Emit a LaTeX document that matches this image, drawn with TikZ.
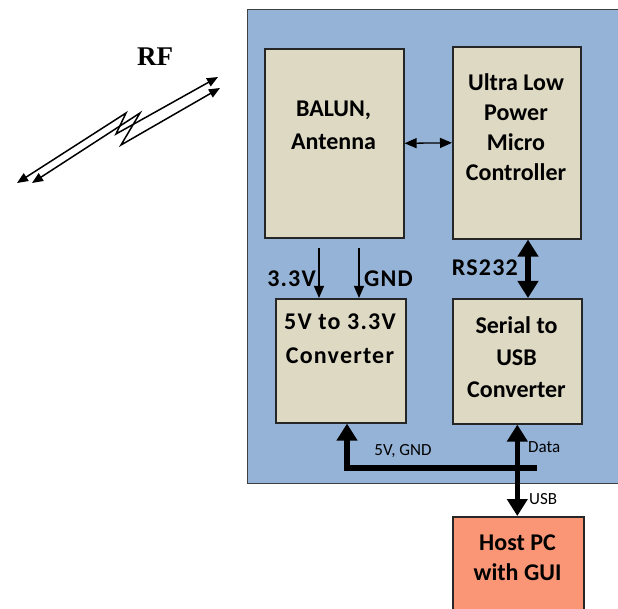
\documentclass[tikz,border=0pt]{standalone}
\usepackage{fontspec}
\setmainfont{Carlito}
\newfontfamily\rffont{Liberation Serif}
\newfontfamily\digfont{Carlito}[LetterSpace=5]
\usetikzlibrary{arrows.meta}
\definecolor{panelblue}{HTML}{95B3D7}
\definecolor{boxtan}{HTML}{DDD9C3}
\definecolor{hostred}{HTML}{FA9676}
\begin{document}
\begin{tikzpicture}[x=1pt,y=-1pt,
  panelbox/.style={draw=black!75, line width=1.3pt, fill=panelblue, anchor=north west, inner sep=0pt},
  blk/.style={draw=black!85, line width=1.6pt, fill=boxtan, anchor=north west, inner sep=0pt},
  hostbox/.style={blk, fill=hostred},
  btxt/.style={font=\fontsize{24}{31}\selectfont\bfseries, align=center, inner sep=0pt},
  lbl/.style={font=\digfont\fontsize{24}{28}\selectfont\bfseries, inner sep=0pt},
  slbl/.style={font=\fontsize{17}{20}\selectfont, inner sep=0pt},
  thinboth/.style={line width=1.3pt, {Triangle[width=10pt,length=12pt]}-{Triangle[width=10pt,length=12pt]}},
  thinto/.style={line width=1.3pt, -{Triangle[width=10pt,length=12pt]}},
  thickboth/.style={line width=5.5pt, {Triangle[width=20pt,length=17pt]}-{Triangle[width=20pt,length=17pt]}},
  thickto/.style={line width=5.5pt, miter limit=10, -{Triangle[width=20pt,length=17pt]}},
  rfline/.style={line width=1.5pt, line join=miter, {Triangle[width=9pt,length=11pt]}-{Triangle[width=9pt,length=11pt]}}
]
\useasboundingbox (0,0) rectangle (618,609);
\clip (0,0) rectangle (618,609);

% panel
\node[panelbox, minimum width=400pt, minimum height=474pt] (panel) at (247,9) {};

% blocks
\node[blk, minimum width=139pt, minimum height=189pt] (balun) at (264,48) {};
\node[blk, minimum width=128pt, minimum height=192pt] (mcu) at (452,46) {};
\node[blk, minimum width=130pt, minimum height=124pt] (conv) at (275,298) {};
\node[blk, minimum width=129pt, minimum height=125pt] (ser) at (452,298) {};
\node[hostbox, minimum width=131pt, minimum height=120pt] (host) at (452,516) {};

% block texts
\node[btxt, font=\fontsize{24}{33}\selectfont\bfseries] (balunT) at (333.5,125) {BALUN,\\Antenna};
\node[btxt, font=\fontsize{24}{30}\selectfont\bfseries] (mcuT) at (516,127) {Ultra Low\\Power\\Micro\\Controller};
\node[btxt, font=\digfont\fontsize{24}{34}\selectfont\bfseries] (convT) at (340,339) {5V to 3.3V\\Converter};
\node[btxt, font=\fontsize{24}{32}\selectfont\bfseries] (serT) at (516.5,357) {Serial to\\USB\\Converter};
\node[btxt, font=\fontsize{24}{30}\selectfont\bfseries] (hostT) at (517.5,558) {Host PC\\with GUI};

% balun <-> mcu
\draw[thinboth] (balun.east) -- (mcu.west);

% power arrows into converter
\coordinate (v33) at (319,248);
\coordinate (vgnd) at (359,248);
\draw[thinto] (v33) -- (v33 |- conv.north);
\draw[thinto] (vgnd) -- (vgnd |- conv.north);
\node[lbl, anchor=east] (l33) at (316,279) {3.3V};
\node[lbl, anchor=west] (lgnd) at (364,279) {GND};

% RS232
\coordinate (rsx) at (528,0);
\draw[thickboth] (rsx |- mcu.south) -- (rsx |- ser.north);
\node[lbl, anchor=east] (lrs) at (518,268) {RS232};

% bus
\coordinate (busR) at (537,468);
\coordinate (busL) at (347,468);
\draw[thickto] (busR) -- (busL) -- (busL |- conv.south);
\draw[thickboth] (ser.south) -- (ser.south |- host.north);
\node[slbl] (l5v) at (403,451) {5V, GND};
\node[slbl, anchor=west] (ldata) at (528,447) {Data};
\node[slbl, anchor=west] (lusb) at (529,499) {USB};

% RF lightning
\node[font=\rffont\fontsize{27}{30}\selectfont\bfseries, inner sep=0pt] (rf) at (155,57) {RF};
\coordinate (u1) at (17,183);
\coordinate (u2) at (126,113);
\coordinate (u3) at (116,134);
\coordinate (u4) at (218,77);
\coordinate (w1) at (32,183);
\coordinate (w2) at (140,113);
\coordinate (w3) at (121,145);
\coordinate (w4) at (220,88);
\draw[rfline] (u1) -- (u2) -- (u3) -- (u4);
\draw[rfline] (w1) -- (w2) -- (w3) -- (w4);
\end{tikzpicture}
\end{document}
